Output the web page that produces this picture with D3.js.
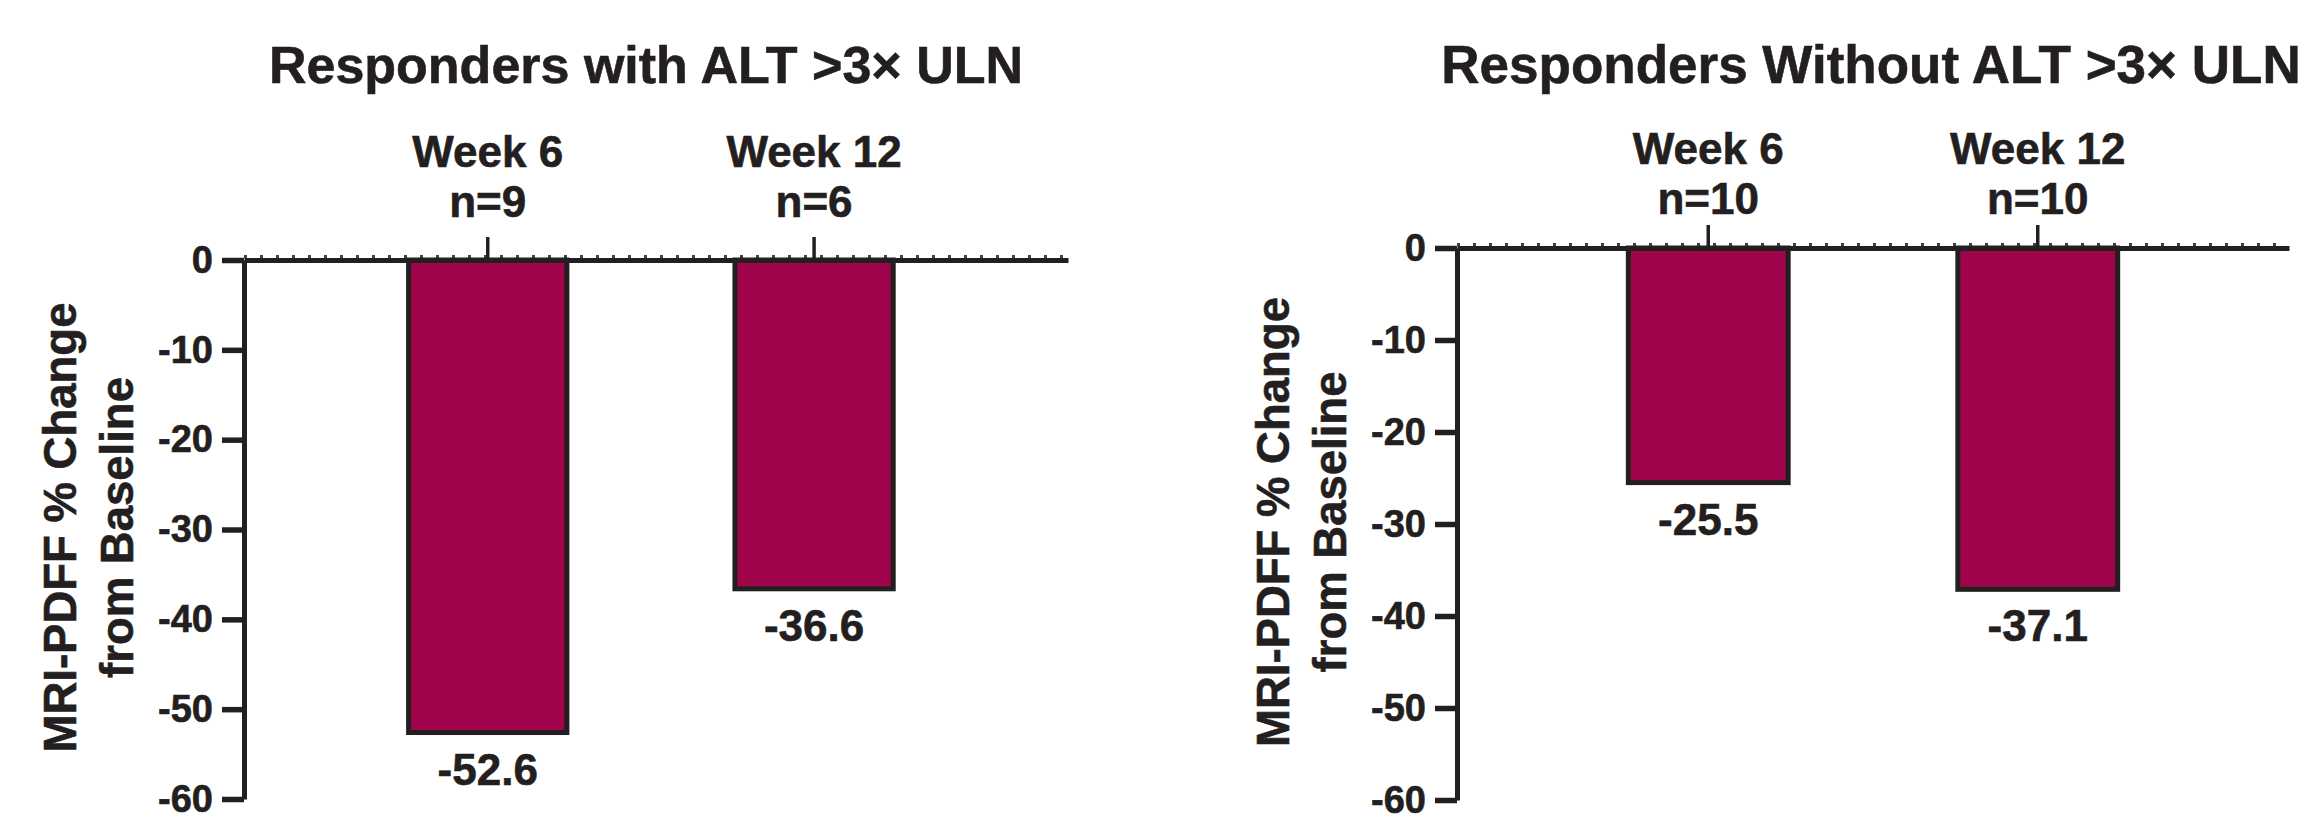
<!DOCTYPE html>
<html>
<head>
<meta charset="utf-8">
<script src="https://cdn.jsdelivr.net/npm/d3@7"></script>
<style>
  html, body { margin: 0; padding: 0; background: #fff; }
  svg { display: block; }
  text { font-family: "Liberation Sans", Arial, Helvetica, sans-serif; font-weight: bold; fill: #231f20; stroke: #231f20; stroke-width: 0.6px; }
</style>
</head>
<body>
<svg id="chart" width="2310" height="815"></svg>
<script>
// ---- data ----
const categories = ["Week 6", "Week 12"];
const panelTitles = ["Responders with ALT >3\u00d7 ULN", "Responders Without ALT >3\u00d7 ULN"];
const nLabelsWithALT = ["n=9", "n=6"];
const nLabelsWithoutALT = ["n=10", "n=10"];
const valuesWithALT = [-52.6, -36.6];
const valuesWithoutALT = [-25.5, -37.1];
const yTicks = [0, -10, -20, -30, -40, -50, -60];
const yDomain = [0, -60];
const yLabelLines = ["MRI-PDFF % Change", "from Baseline"];

// ---- layout ----
const ink = "#231f20";
const barFill = "#a0044a";
const panels = [
  { title: panelTitles[0], values: valuesWithALT, nLabels: nLabelsWithALT,
    axisX: 244, endX: 1068, y0: 260, yEnd: 799, titleX: 646, titleSize: 52,
    align: 0.485, catY1: 167, catY2: 217 },
  { title: panelTitles[1], values: valuesWithoutALT, nLabels: nLabelsWithoutALT,
    axisX: 1457, endX: 2289, y0: 248, yEnd: 800, titleX: 1871, titleSize: 53,
    align: 0.5, catY1: 164, catY2: 214 }
];

const svg = d3.select("#chart");

panels.forEach(p => {
  const g = svg.append("g");
  const x = d3.scaleBand().domain(categories).range([p.axisX, p.endX])
    .paddingInner(0.515).paddingOuter(0.52).align(p.align);
  const y = d3.scaleLinear().domain(yDomain).range([p.y0, p.yEnd]);
  const bw = x.bandwidth();

  // title
  g.append("text").attr("x", p.titleX).attr("y", 83)
    .attr("text-anchor", "middle").attr("font-size", p.titleSize).text(p.title);

  // bars
  g.selectAll("rect.bar").data(categories).join("rect").attr("class", "bar")
    .attr("x", c => x(c))
    .attr("y", y(0))
    .attr("width", bw)
    .attr("height", (c, i) => y(p.values[i]) - y(0))
    .attr("fill", barFill).attr("stroke", ink).attr("stroke-width", 5);

  // value labels
  g.selectAll("text.val").data(categories).join("text").attr("class", "val")
    .attr("x", c => x(c) + bw / 2)
    .attr("y", (c, i) => y(p.values[i]) + 52)
    .attr("text-anchor", "middle").attr("font-size", 44)
    .text((c, i) => String(p.values[i]));

  // dotted line on zero
  g.append("line").attr("x1", p.axisX).attr("x2", p.endX)
    .attr("y1", y(0) - 3.5).attr("y2", y(0) - 3.5)
    .attr("stroke", ink).attr("stroke-width", 3).attr("stroke-dasharray", "3,13")
    .attr("opacity", 0.85);

  // x axis (top, with category ticks)
  const xAxis = g.append("g").attr("transform", `translate(0,${y(0)})`)
    .call(d3.axisTop(x).tickSize(23).tickSizeOuter(0).tickFormat(""));
  xAxis.select(".domain").attr("stroke", ink).attr("stroke-width", 5);
  xAxis.selectAll(".tick line").attr("stroke", ink).attr("stroke-width", 3.5);

  // category labels
  const lab = g.selectAll("text.cat").data(categories).join("text").attr("class", "cat")
    .attr("text-anchor", "middle").attr("font-size", 44);
  lab.append("tspan").attr("x", c => x(c) + bw / 2).attr("y", p.catY1).text(c => c);
  lab.append("tspan").attr("x", c => x(c) + bw / 2).attr("y", p.catY2).text((c, i) => p.nLabels[i]);

  // y axis
  const yAxis = g.append("g").attr("transform", `translate(${p.axisX},0)`)
    .call(d3.axisLeft(y).tickValues(yTicks).tickSize(22).tickSizeOuter(0).tickPadding(9)
      .tickFormat(d => String(d)));
  yAxis.select(".domain").attr("stroke", ink).attr("stroke-width", 5);
  yAxis.selectAll(".tick line").attr("stroke", ink).attr("stroke-width", 5.5);
  yAxis.selectAll(".tick text").attr("font-size", 38)
    .attr("font-family", '"Liberation Sans", Arial, sans-serif')
    .attr("font-weight", "bold").attr("fill", ink);

  // y axis label
  const cy = (p.y0 + p.yEnd) / 2 - 2;
  const yl = g.append("text").attr("font-size", 45.5).attr("text-anchor", "middle")
    .attr("transform", `translate(${p.axisX - 168},${cy}) rotate(-90)`);
  yl.append("tspan").attr("x", 0).attr("y", 0).text(yLabelLines[0]);
  yl.append("tspan").attr("x", 0).attr("y", 57).text(yLabelLines[1]);
});
</script>
</body>
</html>
